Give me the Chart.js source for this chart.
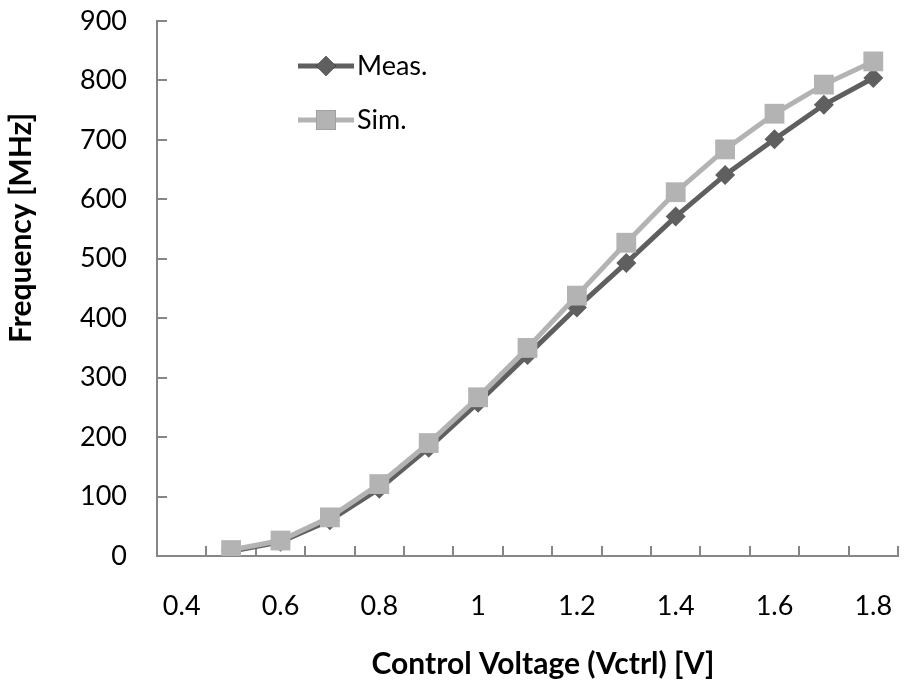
<!DOCTYPE html>
<html><head><meta charset="utf-8">
<script src="https://cdn.jsdelivr.net/npm/chart.js@4/dist/chart.umd.min.js"></script>
<style>html,body{margin:0;padding:0;background:#fff}</style>
</head><body>
<canvas id="c" width="912" height="687"></canvas>
<script>
const categories = ['0.4','0.5','0.6','0.7','0.8','0.9','1','1.1','1.2','1.3','1.4','1.5','1.6','1.7','1.8'];
const tickLabels = ['0.4','0.6','0.8','1','1.2','1.4','1.6','1.8'];
const measValues = [null, 8, 24, 60, 113, 182, 258, 338, 418, 493, 571, 641, 701, 759, 804];
const simValues  = [null, 10, 26, 65, 121, 190, 267, 350, 438, 527, 612, 684, 744, 793, 832];
const seriesNames = ['Meas.', 'Sim.'];
const xTitle = 'Control Voltage (Vctrl) [V]';
const yTitle = 'Frequency [MHz]';
const yMin = 0, yMax = 900, yStep = 100;

const FONT = 'Lato';
const AXIS = '#868686';
const MEAS = '#5f5f5f';
const SIM = '#b3b3b3';

const titleLegendPlugin = {
  id: 'titleLegend',
  afterDraw(chart) {
    const ctx = chart.ctx;
    const a = chart.chartArea;
    ctx.save();
    ctx.fillStyle = '#000';
    ctx.font = 'bold 30px ' + FONT;
    ctx.textAlign = 'center';
    ctx.textBaseline = 'middle';
    ctx.fillText(xTitle, a.left + 386, 664);
    ctx.translate(21, a.top + 207);
    ctx.rotate(-Math.PI / 2);
    ctx.fillText(yTitle, 0, 0);
    ctx.restore();

    // legend
    ctx.save();
    const rows = [{y: a.top + 45}, {y: a.top + 99}];
    chart.data.datasets.forEach((ds, i) => {
      const y = rows[i].y;
      const x0 = a.left + 141, x1 = a.left + 197;
      ctx.strokeStyle = ds.borderColor;
      ctx.lineWidth = ds.borderWidth;
      ctx.beginPath(); ctx.moveTo(x0, y); ctx.lineTo(x1, y); ctx.stroke();
      Chart.helpers.drawPoint(ctx, {pointStyle: ds.pointStyle, radius: ds.pointRadius, borderWidth: 0}, (x0 + x1) / 2, y);
      ctx.fillStyle = ds.pointBackgroundColor;
      ctx.fill();
      ctx.fillStyle = '#000';
      ctx.font = '27px ' + FONT;
      ctx.textAlign = 'left';
      ctx.textBaseline = 'middle';
      ctx.fillText(ds.label, x1 + 3, y);
    });
    ctx.restore();
  }
};

function noPad(s) { s.paddingTop = 0; s.paddingBottom = 0; s.paddingLeft = 0; s.paddingRight = 0; }

new Chart(document.getElementById('c'), {
  type: 'line',
  data: {
    labels: categories,
    datasets: [
      { label: seriesNames[0], data: measValues, borderColor: MEAS, backgroundColor: MEAS,
        pointBackgroundColor: MEAS, pointBorderColor: MEAS, borderWidth: 5,
        pointStyle: 'rectRot', pointRadius: 10, pointBorderWidth: 0, tension: 0, order: 1 },
      { label: seriesNames[1], data: simValues, borderColor: SIM, backgroundColor: SIM,
        pointBackgroundColor: SIM, pointBorderColor: SIM, borderWidth: 5,
        pointStyle: 'rect', pointRadius: 14, pointBorderWidth: 0, tension: 0, order: 0 }
    ]
  },
  options: {
    responsive: false,
    devicePixelRatio: 1,
    animation: false,
    layout: { padding: { left: 0, top: 21, right: 4, bottom: 0 } },
    plugins: { legend: { display: false }, tooltip: { enabled: false } },
    scales: {
      x: {
        type: 'category',
        offset: true,
        grid: { offset: true, drawOnChartArea: false, drawTicks: true, tickLength: -10, color: AXIS, lineWidth: 2 },
        border: { display: true, color: AXIS, width: 2 },
        ticks: {
          autoSkip: false, maxRotation: 0, minRotation: 0, padding: 44, color: '#000',
          font: { family: FONT, size: 27 },
          callback: function(v, i) { const l = categories[i]; return tickLabels.includes(l) ? l : ''; }
        },
        afterFit: s => { s.height = 131; noPad(s); }
      },
      y: {
        min: yMin, max: yMax,
        grid: { drawOnChartArea: false, drawTicks: true, tickLength: -10, color: AXIS, lineWidth: 2 },
        border: { display: true, color: AXIS, width: 2 },
        ticks: { stepSize: yStep, padding: 40, color: '#000', font: { family: FONT, size: 27 } },
        afterFit: s => { s.width = 157; noPad(s); }
      }
    }
  },
  plugins: [titleLegendPlugin]
});
</script>
</body></html>
